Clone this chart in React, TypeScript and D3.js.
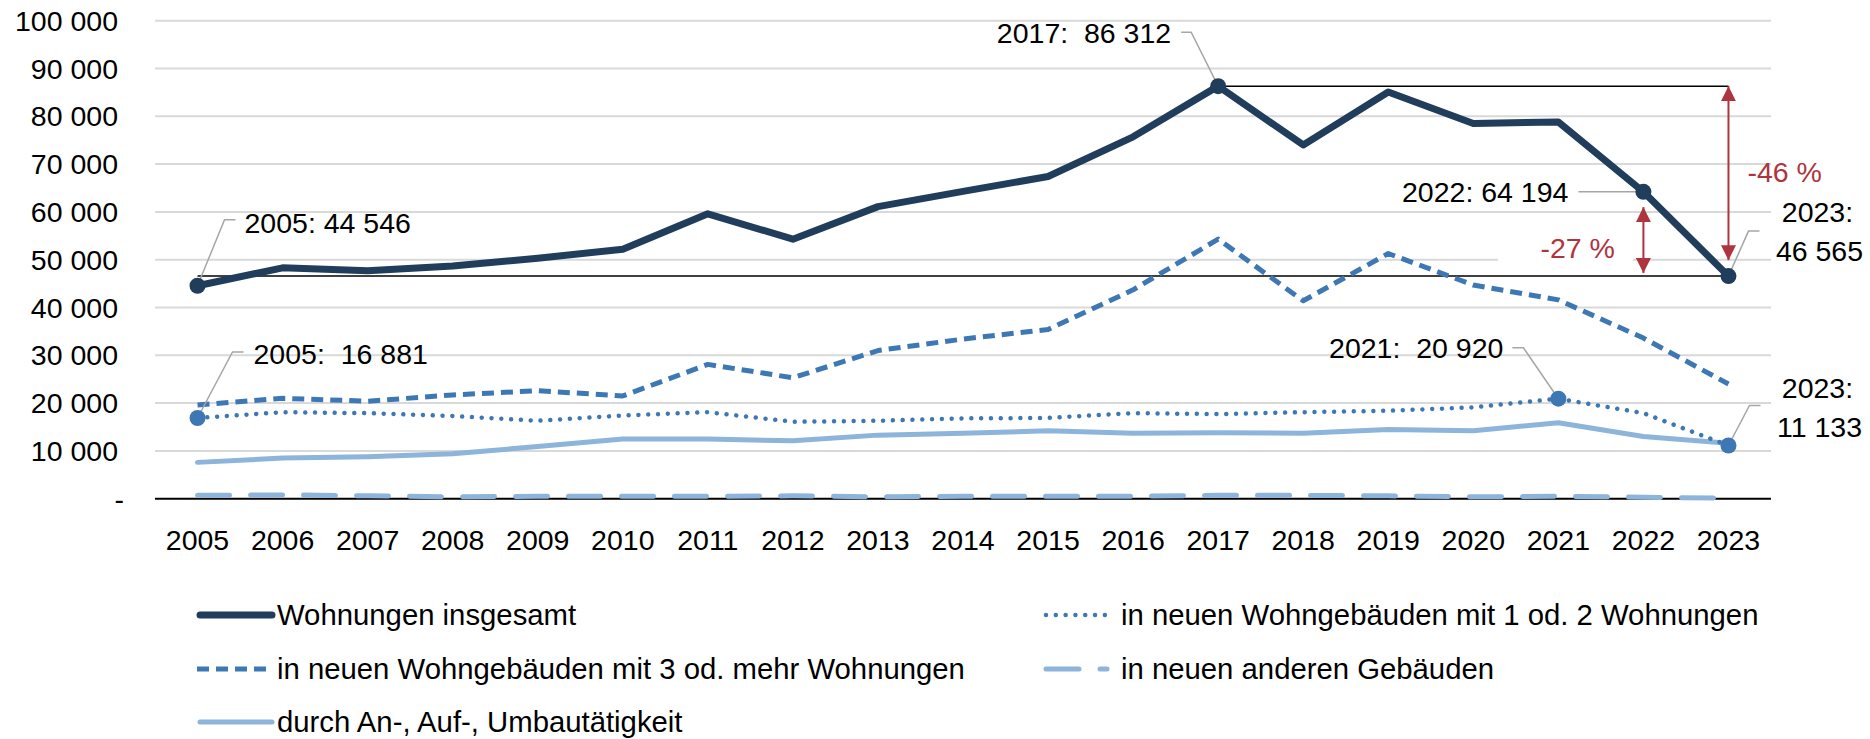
import * as d3 from "d3";
import React from "react";

const years = [
  "2005", "2006", "2007", "2008", "2009", "2010", "2011", "2012", "2013", "2014",
  "2015", "2016", "2017", "2018", "2019", "2020", "2021", "2022", "2023",
];

const totalValues = [
  44546, 48300, 47700, 48700, 50300, 52200, 59600, 54300, 61100, 64300,
  67400, 75700, 86312, 74000, 85100, 78500, 78800, 64194, 46565,
];
const oneTwoValues = [
  16881, 18100, 17900, 17300, 16300, 17400, 18100, 16100, 16300, 16800,
  16900, 17900, 17700, 18100, 18400, 19100, 20920, 17900, 11133,
];
const threePlusValues = [
  19600, 21000, 20400, 21700, 22600, 21500, 28100, 25300, 31000, 33400,
  35400, 43700, 54300, 41400, 51300, 44700, 41600, 33600, 24000,
];
const otherValues = [
  700, 800, 600, 400, 500, 500, 500, 600, 400, 500,
  500, 500, 700, 700, 600, 400, 500, 300, 100,
];
const rebuildValues = [
  7600, 8500, 8800, 9400, 10900, 12500, 12500, 12100, 13300, 13700,
  14200, 13700, 13800, 13700, 14500, 14200, 15900, 13000, 11600,
];

const yTicks = [0, 10000, 20000, 30000, 40000, 50000, 60000, 70000, 80000, 90000, 100000];

const legendLabels = [
  "Wohnungen insgesamt",
  "in neuen Wohngebäuden mit 1 od. 2 Wohnungen",
  "in neuen Wohngebäuden mit 3 od. mehr Wohnungen",
  "in neuen anderen Gebäuden",
  "durch An-, Auf-, Umbautätigkeit",
];

const W = 1870;
const H = 739;
const FONT = "'Liberation Sans', Arial, sans-serif";
const FS = 28.5;

const navy = "#203d5c";
const blue = "#3d78b5";
const light = "#8db4da";
const red = "#ae343e";
const grey = "#a6a6a6";

const locale = d3.formatLocale({ decimal: ",", thousands: " ", grouping: [3], currency: ["", ""] });
const fmt = locale.format(",d");

const series = [
  { values: totalValues, color: navy, width: 7, dash: null, cap: "round" },
  { values: oneTwoValues, color: blue, width: 4.5, dash: "0.01 9.8", cap: "round" },
  { values: threePlusValues, color: blue, width: 5, dash: "12 7", cap: "butt" },
  { values: otherValues, color: light, width: 5, dash: "32 21", cap: "round" },
  { values: rebuildValues, color: light, width: 5, dash: null, cap: "round" },
];

// callouts: which series, which year, text lines, label offset from point, leader bend
const callouts = [
  { s: 0, year: "2005", lines: ["2005: 44 546"], anchor: "start", dx: 47, dy: -63, bend: [27, -66], tail: 38 },
  { s: 1, year: "2005", lines: ["2005:  16 881"], anchor: "start", dx: 56, dy: -64, bend: [35, -66], tail: 46 },
  { s: 0, year: "2017", lines: ["2017:  86 312"], anchor: "end", dx: -47, dy: -53, bend: [-27, -54], tail: -37 },
  { s: 0, year: "2022", lines: ["2022: 64 194"], anchor: "end", dx: -75, dy: 0, bend: [-65, 0], tail: -65 },
  { s: 1, year: "2021", lines: ["2021:  20 920"], anchor: "end", dx: -55, dy: -51, bend: [-35, -51], tail: -46 },
  { s: 0, year: "2023", lines: ["2023:", "46 565"], anchor: "middle", dx: 89, dy: -64, bend: [20, -45], tail: 31 },
  { s: 1, year: "2023", lines: ["2023:", "11 133"], anchor: "middle", dx: 89, dy: -57, bend: [21, -40], tail: 32 },
];

const markers = [
  { s: 0, year: "2005" },
  { s: 0, year: "2017" },
  { s: 0, year: "2022" },
  { s: 0, year: "2023" },
  { s: 1, year: "2005" },
  { s: 1, year: "2021" },
  { s: 1, year: "2023" },
];

// reference lines and change arrows (values)
const refLines = [
  { value: 46565, from: "2005", to: "2023" },
  { value: 86312, from: "2017", to: "2023" },
];
const arrows = [
  { year: "2023", top: 86312, bottom: 49900, label: "-46 %", lx: 19, ly: 172 },
  { year: "2022", top: 61000, bottom: 47200, label: "-27 %", lx: -103, ly: 248 },
];

export default function App() {
  const x = d3.scaleBand().domain(years).range([155, 1771]).padding(0);
  const y = d3.scaleLinear().domain([0, 100000]).range([498.7, 20.7]);
  const cx = (yr: string) => (x(yr) as number) + x.bandwidth() / 2;

  const line = d3
    .line<number>()
    .x((_, i) => cx(years[i]))
    .y((v) => y(v));

  const pt = (s: number, yr: string) => {
    const i = years.indexOf(yr);
    return [cx(yr), y(series[s].values[i])];
  };

  const legendRows = [615, 669, 722];
  const legendPos = [
    { x: 197, row: 0, len: 75 },
    { x: 1043, row: 0, len: 67 },
    { x: 197, row: 1, len: 75 },
    { x: 1043, row: 1, len: 67 },
    { x: 197, row: 2, len: 75 },
  ];

  return (
    <svg
      width={W}
      height={H}
      style={{ position: "absolute", left: 0, top: 0, background: "#fff" }}
      fontFamily={FONT}
      fontSize={FS}
    >
      <rect width={W} height={H} fill="#fff" />

      {/* gridlines */}
      {yTicks.filter((t) => t > 0).map((t) => (
        <line key={t} x1={155} x2={1771} y1={y(t)} y2={y(t)} stroke="#d9d9d9" strokeWidth={2} />
      ))}
      <line x1={155} x2={1771} y1={y(0)} y2={y(0)} stroke="#000" strokeWidth={2} />

      {/* y labels */}
      {yTicks.map((t) => (
        <text key={t} x={t === 0 ? 124 : 118} y={y(t) + 10} textAnchor="end" fill="#000">
          {t === 0 ? "-" : fmt(t)}
        </text>
      ))}

      {/* x labels */}
      {years.map((yr) => (
        <text key={yr} x={cx(yr)} y={550} textAnchor="middle" fill="#000">
          {yr}
        </text>
      ))}

      {/* label box behind -27 % */}
      <rect x={1498} y={y(52500)} width={135} height={y(47600) - y(52500)} fill="#fff" />

      {/* reference lines */}
      {refLines.map((r, i) => (
        <line key={i} x1={cx(r.from)} x2={cx(r.to)} y1={y(r.value)} y2={y(r.value)} stroke="#000" strokeWidth={1.5} />
      ))}

      {/* series */}
      {series.slice().reverse().map((s, i) => (
        <path
          key={i}
          d={line(s.values) as string}
          fill="none"
          stroke={s.color}
          strokeWidth={s.width}
          strokeDasharray={s.dash ?? undefined}
          strokeLinecap={s.cap as any}
          strokeLinejoin="round"
        />
      ))}

      {/* arrows */}
      <defs>
        <marker id="ah" viewBox="0 0 10 10" refX="10" refY="5" markerWidth="7.5" markerHeight="7.5" orient="auto-start-reverse" markerUnits="strokeWidth">
          <path d="M0,0 L10,5 L0,10 z" fill={red} />
        </marker>
      </defs>
      {arrows.map((a, i) => (
        <g key={i}>
          <line
            x1={cx(a.year)}
            x2={cx(a.year)}
            y1={y(a.top)}
            y2={y(a.bottom)}
            stroke={red}
            strokeWidth={2}
            markerStart="url(#ah)"
            markerEnd="url(#ah)"
          />
          <text x={cx(a.year) + a.lx} y={a.ly + 10} fill={red} textAnchor="start">
            {a.label}
          </text>
        </g>
      ))}

      {/* leader lines and callouts */}
      {callouts.map((c, i) => {
        const [px, py] = pt(c.s, c.year);
        const d = `M${px},${py}L${px + c.bend[0]},${py + c.bend[1]}L${px + c.tail},${py + c.bend[1]}`;
        return (
          <g key={i}>
            <path d={d} fill="none" stroke={grey} strokeWidth={1.5} />
            {c.lines.map((l, j) => (
              <text
                key={j}
                x={px + c.dx + (j === 1 ? 2 : 0)}
                y={py + c.dy + j * 39 + 10}
                textAnchor={c.anchor}
                fill="#000"
                style={{ whiteSpace: "pre" }}
              >
                {l}
              </text>
            ))}
          </g>
        );
      })}

      {/* markers */}
      {markers.map((m, i) => {
        const [px, py] = pt(m.s, m.year);
        return <circle key={i} cx={px} cy={py} r={8} fill={series[m.s].color} />;
      })}

      {/* legend */}
      {legendLabels.map((lab, i) => {
        const p = legendPos[i];
        const ly = legendRows[p.row];
        const s = series[i];
        return (
          <g key={lab}>
            {i === 3 ? (
              <g>
                <line x1={p.x + 3} x2={p.x + 36} y1={ly} y2={ly} stroke={s.color} strokeWidth={5} strokeLinecap="round" />
                <line x1={p.x + 57} x2={p.x + 64} y1={ly} y2={ly} stroke={s.color} strokeWidth={5} strokeLinecap="round" />
              </g>
            ) : (
              <line
                x1={p.x + (s.cap === "round" ? 3 : 0)}
                x2={p.x + p.len}
                y1={ly}
                y2={ly}
                stroke={s.color}
                strokeWidth={s.width}
                strokeDasharray={s.dash ?? undefined}
                strokeLinecap={s.cap as any}
              />
            )}
            <text x={p.x + (i % 2 === 1 ? 78 : 80)} y={ly + 10} fill="#000" fontSize={29.3}>
              {lab}
            </text>
          </g>
        );
      })}
    </svg>
  );
}
